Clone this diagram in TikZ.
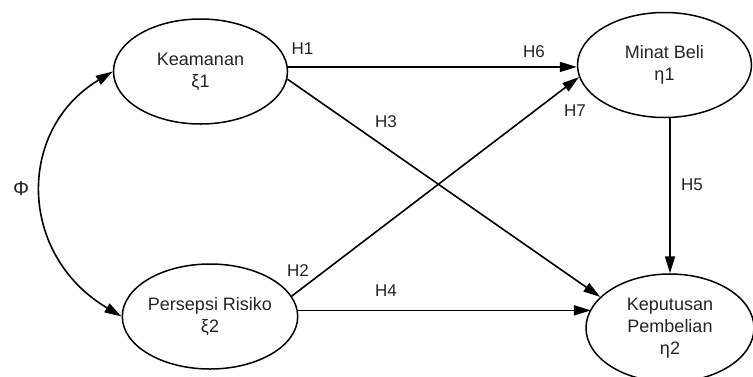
\documentclass[tikz,border=0pt]{standalone}
\usepackage{fontspec}
\setmainfont{Liberation Sans}
\usetikzlibrary{shapes.geometric,arrows.meta}
\definecolor{txt}{RGB}{35,35,35}
\tikzset{
  construct/.style={draw, ellipse, line width=1.5pt, inner sep=0pt,
    minimum width=174pt, minimum height=105pt, align=center,
    font=\fontsize{18}{22}\selectfont, text=txt},
  hyp/.style={inner sep=0pt, font=\fontsize{17}{20}\selectfont, text=txt},
  path/.style={line width=1.6pt, -{Triangle[length=17pt,width=10pt]}},
  corr/.style={line width=1.6pt,
    {Triangle[length=17pt,width=10pt]}-{Triangle[length=17pt,width=10pt]}}
}
\begin{document}
\begin{tikzpicture}[x=1pt,y=-1pt]
\useasboundingbox (0,0) rectangle (753,376);

% latent constructs
\node[construct] (k)  at (200.5,71.5) {Keamanan\\ξ1};
\node[construct] (r)  at (210,316.5)  {Persepsi Risiko\\ξ2};
\node[construct] (m)  at (664.5,65)   {Minat Beli\\η1};
\node[construct, minimum width=168pt, minimum height=108pt] (kp) at (670,328)
  {Keputusan\\Pembelian\\η2};

% correlation between the exogenous constructs
\draw[corr] (k.west) .. controls (16,130) and (18,255) .. (r.west);
\node[hyp, font=\fontsize{20}{22}\selectfont] (phi) at (21,189) {Φ};

% structural paths
\draw[path] (k.3.7) -- (k.3.7 -| m.west);
\draw[path] (k.-5.6) -- (kp.156.8);
\draw[path] (r.14.4) -- (m.188.5);
\draw[path] (r.4.9) -- (r.4.9 -| kp.166.4);
\draw[path] (kp.north |- m.south) -- (kp.north);

% hypothesis labels
\node[hyp] (h1) at (302.5,48.5) {H1};
\node[hyp] (h6) at (534,52)     {H6};
\node[hyp] (h3) at (386,122)    {H3};
\node[hyp] (h7) at (575,111)    {H7};
\node[hyp] (h5) at (692,185)    {H5};
\node[hyp] (h2) at (298,271)    {H2};
\node[hyp] (h4) at (386,291)    {H4};
\end{tikzpicture}
\end{document}
